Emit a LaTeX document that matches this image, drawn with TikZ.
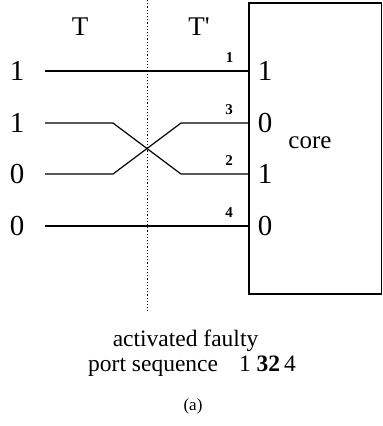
\documentclass[tikz,border=0pt]{standalone}
\usepackage{fontspec}
\setmainfont{Liberation Serif}
\newfontfamily\rawserif{Liberation Serif}[Ligatures=TeXOff]
\begin{document}
\begin{tikzpicture}[x=1pt,y=-1pt,
  wire/.style={line width=1.2pt},
  big/.style={font=\fontsize{29}{29}\selectfont, anchor=base, inner sep=0pt},
  title/.style={font=\rawserif\fontsize{27}{27}\selectfont, anchor=base, inner sep=0pt},
  portnum/.style={font=\fontsize{15}{15}\selectfont\bfseries, anchor=base, inner sep=0pt},
  caption/.style={font=\fontsize{23.5}{23.5}\selectfont, anchor=base, inner sep=0pt},
  sep/.style={line width=1pt, dash pattern=on 1.2pt off 2pt}]
\useasboundingbox (0,0) rectangle (383,426);
% core box
\node[draw, line width=1.3pt, minimum width=132.5pt, minimum height=291pt, inner sep=0pt] (box) at (315.25,148.5) {};
\node[caption, font=\fontsize{25}{25}\selectfont] (core) at (310,148) {core};
% separator
\coordinate (s0) at (147,0);
\coordinate (s1) at (147,311);
\draw[sep] (s0) -- (s1);
% titles
\node[title] (T) at (80,35) {T};
\node[title] (Tp) at (199,35) {T'};
% left values
\node[big] (l1) at (17,80.5) {1};
\node[big] (l2) at (17,132.5) {1};
\node[big] (l3) at (17,183.5) {0};
\node[big] (l4) at (17,235.5) {0};
% right values
\node[big] (r1) at (265,80.5) {1};
\node[big] (r2) at (265,132.5) {0};
\node[big] (r3) at (265,183.5) {1};
\node[big] (r4) at (265,235.5) {0};
% wire endpoints
\coordinate (a1) at (45,71);
\coordinate (a2) at (45,123);
\coordinate (a3) at (45,174);
\coordinate (a4) at (45,226);
\coordinate (p1) at (box.west |- a1);
\coordinate (p2) at (box.west |- a2);
\coordinate (p3) at (box.west |- a3);
\coordinate (p4) at (box.west |- a4);
\coordinate (b2) at (113,123);
\coordinate (b3) at (113,174);
\coordinate (c2) at (181,123);
\coordinate (c3) at (181,174);
\draw[wire] (a1) -- (p1);
\draw[wire] (a2) -- (b2) -- (c3) -- (p3);
\draw[wire] (a3) -- (b3) -- (c2) -- (p2);
\draw[wire] (a4) -- (p4);
% port numbers
\node[portnum] (n1) at (229.5,62) {1};
\node[portnum] (n3) at (229,114) {3};
\node[portnum] (n2) at (229,165) {2};
\node[portnum] (n4) at (229,217) {4};
% caption
\node[caption] (cap1) at (185.5,346) {activated faulty};
\node[caption, anchor=base west] (cap2) at (88,371) {port sequence\hspace{21pt}1 \textbf{32}\,4};
\node[caption, font=\fontsize{17}{17}\selectfont] (cap3) at (193,410) {(a)};
\end{tikzpicture}
\end{document}
